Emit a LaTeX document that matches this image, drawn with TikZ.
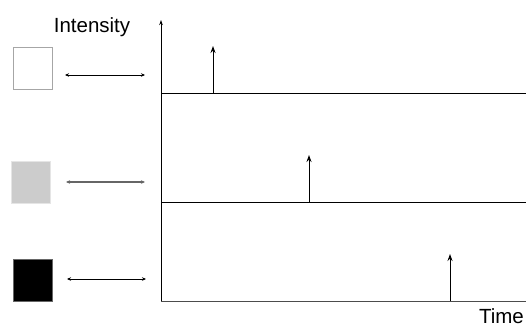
\documentclass[tikz,border=0pt]{standalone}
\usepackage{fontspec}
\setmainfont{Liberation Sans}
\usepackage{xcolor}
\usetikzlibrary{arrows.meta}

\tikzset{
  level/.style={draw, minimum width=39pt, minimum height=42pt, inner sep=0pt, line width=0.8pt},
  axis/.style={line width=1pt, -{Stealth[length=5pt,width=3.5pt]}},
  spike/.style={line width=1pt, -{Stealth[length=7pt,width=5pt]}},
  maps/.style={line width=1pt, {Stealth[length=4pt,width=3.5pt]}-{Stealth[length=4pt,width=3.5pt]}},
  lbl/.style={font=\fontsize{20.5}{24}\selectfont, inner sep=0pt}
}

\begin{document}
\begin{tikzpicture}[x=1pt, y=-1pt]
\useasboundingbox (0,0) rectangle (526,327);
% grey levels
\node[level, draw=black!35, fill=white] (white) at (32.5,68) {};
\node[level, draw=black!10, fill=black!20] (grey) at (30.5,182.5) {};
\node[level, draw=black!60, fill=black] (black) at (32.5,280) {};
%
\coordinate (wa) at (65,75);  \coordinate (wb) at (145,75);
\coordinate (ga) at (66,182); \coordinate (gb) at (145,182);
\coordinate (ba) at (67,279); \coordinate (bb) at (146,279);
\draw[maps] (wa) -- (wb);
\draw[maps, line width=1.3pt, black!60] (ga) -- (gb);
\draw[maps] (ba) -- (bb);
%
\coordinate (o) at (161,301);
\coordinate (top) at (161,20);
\draw[axis] (o) -- (top);
\coordinate (l1) at (161,93);  \coordinate (r1) at (526,93);
\coordinate (l2) at (161,202); \coordinate (r2) at (526,202);
\coordinate (r3) at (526,301);
\draw[line width=1pt] (l1) -- (r1);
\draw[line width=1pt] (l2) -- (r2);
\draw[line width=1pt, black!70] (o) -- (r3);
%
\coordinate (s1) at (213,93);  \coordinate (t1) at (213,46);
\coordinate (s2) at (309,202); \coordinate (t2) at (309,155);
\coordinate (s3) at (450,301); \coordinate (t3) at (450,254);
\draw[spike] (s1) -- (t1);
\draw[spike] (s2) -- (t2);
\draw[spike] (s3) -- (t3);
%
\node[lbl, anchor=base] (int) at (92,32) {Intensity};
\node[lbl, anchor=base east] (time) at (524,323) {Time};
\end{tikzpicture}
\end{document}
